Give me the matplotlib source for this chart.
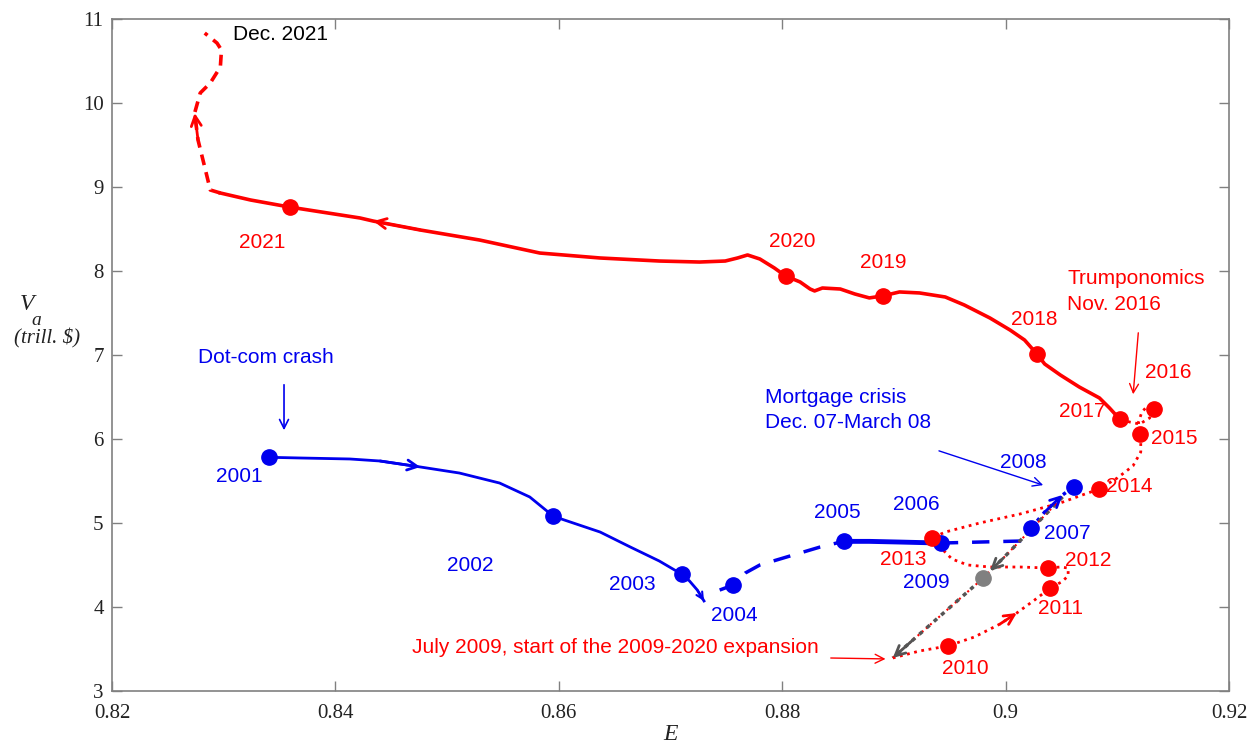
import matplotlib
matplotlib.use("Agg")
import matplotlib.pyplot as plt

# Market value V_a (trillion $) against E, 2001 - Dec. 2021
years_blue = ["2001", "2002", "2003", "2004", "2005", "2006", "2007", "2008"]
e_blue = [0.8341, 0.8595, 0.8710, 0.8756, 0.8855, 0.8942, 0.9023, 0.9061]
v_blue = [5.78, 5.08, 4.39, 4.26, 4.78, 4.76, 4.94, 5.43]

years_grey = ["2009"]
e_grey = [0.8980]
v_grey = [4.344]

years_red = ["2010", "2011", "2012", "2013", "2014", "2015", "2016", "2017",
             "2018", "2019", "2020", "2021"]
e_red = [0.8948, 0.9040, 0.9038, 0.8934, 0.9084, 0.9120, 0.9133, 0.9102,
         0.9028, 0.8890, 0.8803, 0.8359]
v_red = [3.535, 4.225, 4.463, 4.820, 5.403, 6.057, 6.355, 6.236,
         7.009, 7.700, 7.937, 8.757]

# monthly paths
blue_solid_e = [0.8341, 0.8368, 0.8413, 0.8440, 0.8476, 0.8511, 0.8547, 0.8574,
                0.8595, 0.8605, 0.8637, 0.8664, 0.8690, 0.8710, 0.8717, 0.8724, 0.8730]
blue_solid_v = [5.78, 5.772, 5.760, 5.736, 5.665, 5.593, 5.474, 5.308,
                5.08, 5.034, 4.891, 4.713, 4.546, 4.39, 4.309, 4.201, 4.071]

blue_dash1_e = [0.8744, 0.8756, 0.8767, 0.8780, 0.8807, 0.8834, 0.8855]
blue_dash1_v = [4.201, 4.26, 4.404, 4.499, 4.606, 4.713, 4.78]

blue_thick_e = [0.8855, 0.8878, 0.8905, 0.8942]
blue_thick_v = [4.78, 4.78, 4.772, 4.76]

blue_dash2_e = [0.8942, 0.8977, 0.9013, 0.9019, 0.9023]
blue_dash2_v = [4.76, 4.772, 4.784, 4.832, 4.94]

blue_dot_e = [0.9023, 0.9035, 0.9051, 0.9061]
blue_dot_v = [4.94, 5.129, 5.332, 5.43]

grey_dot_e = [0.9051, 0.8998, 0.8986, 0.8980, 0.8916, 0.8899]
grey_dot_v = [5.308, 4.582, 4.428, 4.344, 3.595, 3.393]

red_dot_e = [0.8899, 0.8923, 0.8948, 0.8972, 0.8995, 0.9010, 0.9026, 0.9040,
             0.9050, 0.9056, 0.9056, 0.9049, 0.9038, 0.9013, 0.8986, 0.8966,
             0.8952, 0.8944, 0.8934, 0.8946, 0.8977, 0.9013, 0.9049, 0.9071,
             0.9084, 0.9100, 0.9114, 0.9121, 0.9121, 0.9120, 0.9119, 0.9122,
             0.9127, 0.9133, 0.9129, 0.9120, 0.9111, 0.9102]
red_dot_v = [3.393, 3.476, 3.535, 3.642, 3.797, 3.928, 4.083, 4.225,
             4.297, 4.368, 4.463, 4.475, 4.463, 4.475, 4.475, 4.499,
             4.570, 4.677, 4.820, 4.891, 4.999, 5.106, 5.237, 5.343,
             5.403, 5.534, 5.677, 5.843, 5.962, 6.057, 6.200, 6.319,
             6.390, 6.355, 6.248, 6.176, 6.200, 6.236]

red_solid_e = [0.9102, 0.9093, 0.9084, 0.9066, 0.9049, 0.9035, 0.9028, 0.9017,
               0.9004, 0.8986, 0.8963, 0.8946, 0.8923, 0.8905, 0.8890, 0.8878,
               0.8865, 0.8852, 0.8836, 0.8829, 0.8825, 0.8816, 0.8803, 0.8793,
               0.8780, 0.8769, 0.8760, 0.8749, 0.8726, 0.8690, 0.8637, 0.8583,
               0.8529, 0.8476, 0.8434, 0.8422, 0.8359, 0.8324, 0.8297]
red_solid_v = [6.236, 6.367, 6.486, 6.616, 6.759, 6.890, 7.009, 7.175,
               7.294, 7.437, 7.592, 7.687, 7.735, 7.747, 7.700, 7.676,
               7.723, 7.782, 7.794, 7.759, 7.782, 7.866, 7.937, 8.032,
               8.139, 8.187, 8.151, 8.115, 8.103, 8.115, 8.151, 8.210,
               8.365, 8.484, 8.59, 8.627, 8.757, 8.841, 8.924]

red_dash_e = [0.8297, 0.8288, 0.8283, 0.8277, 0.8274, 0.8279, 0.8288, 0.8297,
              0.8298, 0.8294, 0.8283]
red_dash_v = [8.924, 8.960, 9.233, 9.555, 9.876, 10.114, 10.233, 10.423,
              10.625, 10.708, 10.827]

x_ticks = [0.82, 0.84, 0.86, 0.88, 0.90, 0.92]
x_tick_labels = ["0.82", "0.84", "0.86", "0.88", "0.9", "0.92"]
y_ticks = [3, 4, 5, 6, 7, 8, 9, 10, 11]

# year label offsets in pixels from the marker
label_offsets = {
    "2001": (-30, -19), "2002": (-83, -49), "2003": (-49, -10), "2004": (1, -30),
    "2005": (-6, 29), "2006": (-25, 39), "2007": (36, -6), "2008": (-50, 24),
    "2009": (-57, -4), "2010": (18, -22), "2011": (10, -20), "2012": (40, 8),
    "2013": (-29, -21), "2014": (30, 2), "2015": (35, -4), "2016": (14, 36),
    "2017": (-37, 7), "2018": (-3, 34), "2019": (1, 33), "2020": (7, 34),
    "2021": (-27, -35),
}

RED = "#ff0000"
BLUE = "#0000ee"
GREY = "#555555"
SANS = "Liberation Sans"
SERIF = "Liberation Serif"
FS = 15

fig = plt.figure(figsize=(12.48, 7.45), dpi=100)
ax = fig.add_axes([112 / 1248, 1 - 691 / 745, (1229 - 112) / 1248, (691 - 18.5) / 745])


def path_arrow(xs, ys, i, color, lw=2.0, scale=18):
    ax.annotate("", xy=(xs[i + 1], ys[i + 1]), xytext=(xs[i], ys[i]),
                arrowprops=dict(arrowstyle="->", color=color, lw=lw,
                                mutation_scale=scale, shrinkA=0, shrinkB=0),
                zorder=4)


# blue: 2001 - 2008
ax.plot(blue_solid_e, blue_solid_v, color=BLUE, lw=2.0, zorder=3)
ax.plot(blue_dash1_e, blue_dash1_v, color=BLUE, lw=2.5, dashes=(5, 4), zorder=3)
ax.plot(blue_thick_e, blue_thick_v, color=BLUE, lw=3.5, zorder=3)
ax.plot(blue_dash2_e, blue_dash2_v, color=BLUE, lw=2.5, dashes=(5, 4), zorder=3)
ax.plot(blue_dot_e, blue_dot_v, color=BLUE, lw=2.5, ls=":", zorder=3)
path_arrow(blue_solid_e, blue_solid_v, 3, BLUE)
path_arrow(blue_solid_e, blue_solid_v, len(blue_solid_e) - 2, BLUE, lw=1.5, scale=12)
path_arrow(blue_dot_e, blue_dot_v, 1, BLUE)

# crisis drop into July 2009
ax.plot(grey_dot_e, grey_dot_v, color=RED, lw=1.5, ls=":", zorder=3)
ax.plot(grey_dot_e, grey_dot_v, color=GREY, lw=2.5, dashes=(1.2, 1.6), zorder=3)
path_arrow(grey_dot_e, grey_dot_v, 1, GREY)
path_arrow(grey_dot_e, grey_dot_v, 4, GREY)

# red: expansion and after
ax.plot(red_dot_e, red_dot_v, color=RED, lw=2.0, ls=":", zorder=3)
ax.plot(red_solid_e, red_solid_v, color=RED, lw=2.6, zorder=3)
ax.plot(red_dash_e, red_dash_v, color=RED, lw=2.6, dashes=(3, 2), zorder=3)
path_arrow(red_dot_e, red_dot_v, 4, RED)
path_arrow(red_solid_e, red_solid_v, 33, RED)
path_arrow(red_dash_e, red_dash_v, 3, RED)

# yearly markers and labels
for years, es, vs, col in [(years_blue, e_blue, v_blue, BLUE),
                           (years_grey, e_grey, v_grey, "#808080"),
                           (years_red, e_red, v_red, RED)]:
    ax.plot(es, vs, "o", color=col, ms=11, zorder=5)
    txt_col = BLUE if col == "#808080" else col
    for yr, e, v in zip(years, es, vs):
        ax.annotate(yr, (e, v), xytext=label_offsets[yr], textcoords="offset pixels",
                    ha="center", va="center", color=txt_col, fontsize=FS,
                    family=SANS, zorder=6)

# event annotations
ax.text(0.8338, 6.962, "Dot-com crash", color=BLUE, fontsize=FS, family=SANS,
        ha="center", va="center")
ax.annotate("", xy=(0.8354, 6.069), xytext=(0.8354, 6.676),
            arrowprops=dict(arrowstyle="->", color=BLUE, lw=1.2, mutation_scale=16))

ax.text(0.8785, 6.343, "Mortgage crisis\nDec. 07-March 08", color=BLUE, fontsize=FS,
        family=SANS, ha="left", va="center", linespacing=1.45)
ax.annotate("", xy=(0.9036, 5.439), xytext=(0.8938, 5.867),
            arrowprops=dict(arrowstyle="->", color=BLUE, lw=1.0, mutation_scale=16))

ax.text(0.9055, 7.753, "Trumponomics\nNov. 2016", color=RED, fontsize=FS,
        family=SANS, ha="left", va="center", linespacing=1.45)
ax.annotate("", xy=(0.9114, 6.497), xytext=(0.9119, 7.294),
            arrowprops=dict(arrowstyle="->", color=RED, lw=1.0, mutation_scale=16))

ax.text(0.8469, 3.512, "July 2009, start of the 2009-2020 expansion", color=RED,
        fontsize=FS, family=SANS, ha="left", va="center")
ax.annotate("", xy=(0.8895, 3.381), xytext=(0.8841, 3.393),
            arrowprops=dict(arrowstyle="->", color=RED, lw=1.0, mutation_scale=16))

ax.text(0.8308, 10.804, "Dec. 2021", color="black", fontsize=FS, family=SANS,
        ha="left", va="center")

# axes styling
ax.set_xlim(0.82, 0.92)
ax.set_ylim(3, 11)
ax.set_xticks(x_ticks)
ax.set_xticklabels(x_tick_labels)
ax.set_yticks(y_ticks)
ax.tick_params(direction="in", top=True, right=True, length=7, width=1,
               color="#808080", labelsize=15, labelcolor="#222222")
ax.tick_params(axis="x", pad=9)
ax.tick_params(axis="y", pad=6)
for lab in ax.get_xticklabels() + ax.get_yticklabels():
    lab.set_family(SERIF)
for sp in ax.spines.values():
    sp.set_color("#808080")
    sp.set_linewidth(1.2)

fig.text(27 / 1248, 1 - 305 / 745, "V", fontsize=17, family=SERIF, style="italic",
         ha="center", va="center", color="#222222")
fig.text(36 / 1248, 1 - 320 / 745, "a", fontsize=14, family=SERIF, style="italic",
         ha="center", va="center", color="#222222")
fig.text(47 / 1248, 1 - 338 / 745, "(trill. $)", fontsize=15, family=SERIF,
         style="italic", ha="center", va="center", color="#222222")
fig.text(670 / 1248, 1 - 735 / 745, "E", fontsize=17, family=SERIF, style="italic",
         ha="center", va="center", color="#222222")

fig.savefig("out.png", dpi=100)
